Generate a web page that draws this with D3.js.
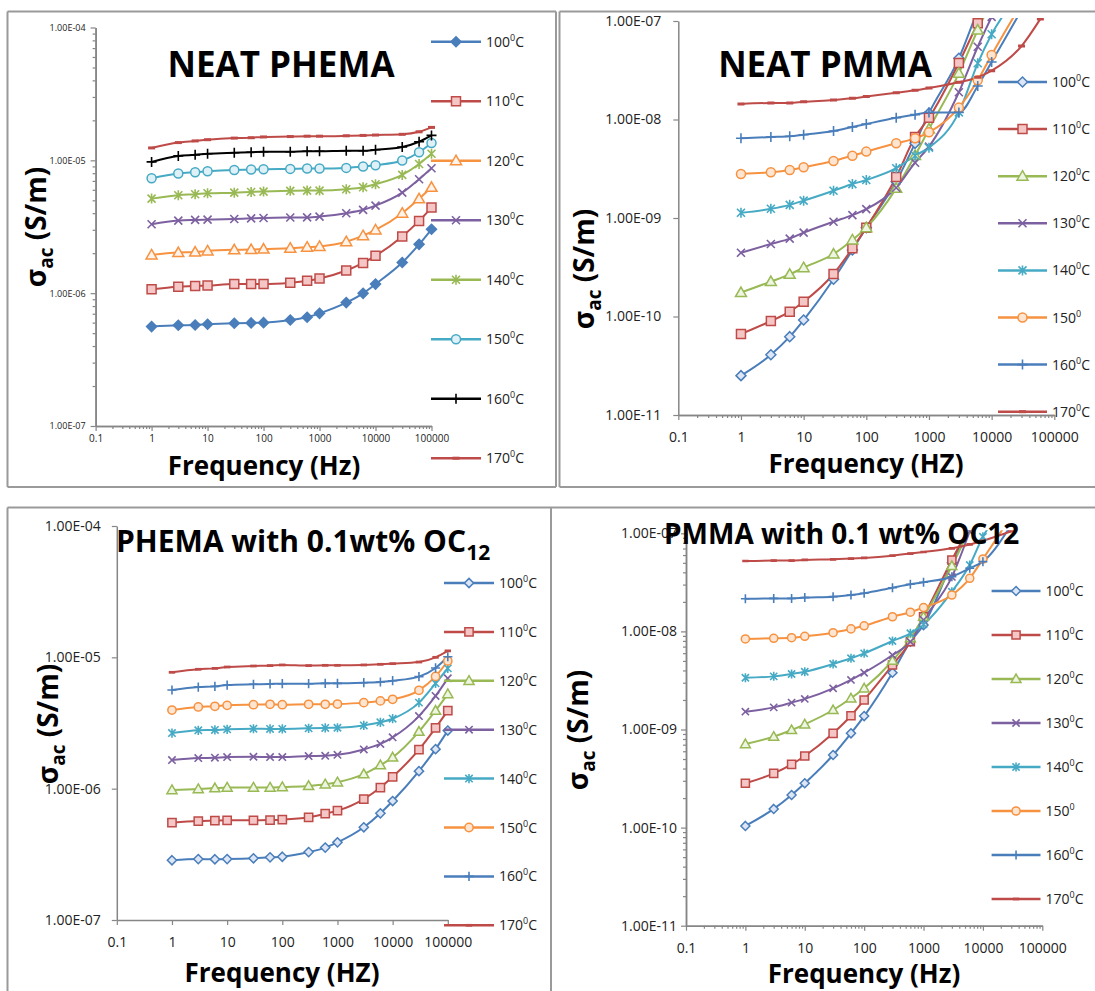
<!DOCTYPE html>
<html>
  <head>
    <meta charset="utf-8" />
    <title>AC conductivity of PHEMA and PMMA</title>
    <script src="https://d3js.org/d3.v7.min.js"></script>
    <style>
      body {
        margin: 0;
        background-color: white;
      }
      svg {
        display: block;
        font-family: "Open Sans", "Noto Sans", sans-serif;
      }
    </style>
  </head>

  <body>
    <svg width="1095" height="991" id="chart"></svg>

    <script>
      // frequencies (Hz) shared by every series
      const freqs = [1, 3, 6, 10, 30, 60, 100, 300, 600, 1000, 3000, 6000, 10000, 30000, 60000, 100000];

      // tick labels
      const xTickValues = [0.1, 1, 10, 100, 1000, 10000, 100000];
      const xTickLabels = ["0.1", "1", "10", "100", "1000", "10000", "100000"];
      const phemaYTickValues = [1e-7, 1e-6, 1e-5, 1e-4];
      const phemaYTickLabels = ["1.00E-07", "1.00E-06", "1.00E-05", "1.00E-04"];
      const pmmaYTickValues = [1e-11, 1e-10, 1e-9, 1e-8, 1e-7];
      const pmmaYTickLabels = ["1.00E-11", "1.00E-10", "1.00E-09", "1.00E-08", "1.00E-07"];

      // legend entries
      const legendPhema = ["100⁰C", "110⁰C", "120⁰C", "130⁰C", "140⁰C", "150⁰C", "160⁰C", "170⁰C"];
      const legendPmma = ["100⁰C", "110⁰C", "120⁰C", "130⁰C", "140⁰C", "150⁰", "160⁰C", "170⁰C"];

      // sigma_ac (S/m), one row per temperature 100..170 C
      const neatPhema = [
        [5.6e-7, 5.73e-7, 5.76e-7, 5.83e-7, 5.93e-7, 5.97e-7, 6.0e-7, 6.28e-7, 6.58e-7, 7.05e-7, 8.49e-7, 9.97e-7, 1.17e-6, 1.70e-6, 2.33e-6, 3.03e-6],
        [1.07e-6, 1.12e-6, 1.13e-6, 1.14e-6, 1.17e-6, 1.17e-6, 1.17e-6, 1.20e-6, 1.24e-6, 1.29e-6, 1.48e-6, 1.69e-6, 1.91e-6, 2.67e-6, 3.50e-6, 4.41e-6],
        [1.94e-6, 2.02e-6, 2.04e-6, 2.08e-6, 2.12e-6, 2.13e-6, 2.15e-6, 2.18e-6, 2.22e-6, 2.25e-6, 2.44e-6, 2.71e-6, 2.99e-6, 4.0e-6, 5.13e-6, 6.27e-6],
        [3.30e-6, 3.52e-6, 3.56e-6, 3.58e-6, 3.62e-6, 3.66e-6, 3.68e-6, 3.71e-6, 3.72e-6, 3.77e-6, 4.0e-6, 4.24e-6, 4.56e-6, 5.71e-6, 7.21e-6, 8.72e-6],
        [5.15e-6, 5.46e-6, 5.56e-6, 5.65e-6, 5.71e-6, 5.78e-6, 5.82e-6, 5.89e-6, 5.92e-6, 5.92e-6, 6.06e-6, 6.27e-6, 6.61e-6, 7.77e-6, 9.39e-6, 1.12e-5],
        [7.33e-6, 7.95e-6, 8.14e-6, 8.28e-6, 8.47e-6, 8.52e-6, 8.57e-6, 8.62e-6, 8.67e-6, 8.67e-6, 8.77e-6, 8.98e-6, 9.19e-6, 9.96e-6, 1.15e-5, 1.35e-5],
        [9.73e-6, 1.08e-5, 1.10e-5, 1.12e-5, 1.14e-5, 1.15e-5, 1.16e-5, 1.16e-5, 1.17e-5, 1.17e-5, 1.18e-5, 1.18e-5, 1.20e-5, 1.26e-5, 1.38e-5, 1.54e-5],
        [1.24e-5, 1.36e-5, 1.40e-5, 1.43e-5, 1.47e-5, 1.48e-5, 1.50e-5, 1.51e-5, 1.52e-5, 1.52e-5, 1.53e-5, 1.54e-5, 1.55e-5, 1.57e-5, 1.64e-5, 1.77e-5]
      ];

      const neatPmma = [
        [2.51e-11, 4.09e-11, 6.24e-11, 9.21e-11, 2.39e-10, 4.73e-10, 7.98e-10, 2.34e-9, 5.73e-9, 1.16e-8, 4.18e-8, 1.3e-7],
        [6.64e-11, 9.0e-11, 1.12e-10, 1.41e-10, 2.70e-10, 4.92e-10, 7.98e-10, 2.61e-9, 6.64e-9, 1.04e-8, 3.75e-8, 9.5e-8, 1.8e-7],
        [1.75e-10, 2.26e-10, 2.68e-10, 3.13e-10, 4.31e-10, 5.98e-10, 7.98e-10, 2.0e-9, 4.3e-9, 8.0e-9, 2.94e-8, 8.1e-8, 1.6e-7],
        [4.44e-10, 5.45e-10, 6.17e-10, 7.10e-10, 9.17e-10, 1.07e-9, 1.23e-9, 2.03e-9, 3.64e-9, 5.30e-9, 1.89e-8, 5.48e-8, 1.1e-7],
        [1.13e-9, 1.24e-9, 1.36e-9, 1.50e-9, 1.89e-9, 2.21e-9, 2.43e-9, 3.20e-9, 4.29e-9, 5.18e-9, 1.18e-8, 3.72e-8, 7.33e-8, 2.0e-7],
        [2.80e-9, 2.91e-9, 3.07e-9, 3.27e-9, 3.79e-9, 4.29e-9, 4.72e-9, 5.73e-9, 6.44e-9, 7.41e-9, 1.32e-8, 2.50e-8, 4.52e-8, 1.5e-7],
        [6.44e-9, 6.64e-9, 6.75e-9, 7.01e-9, 7.64e-9, 8.39e-9, 9.0e-9, 1.04e-8, 1.12e-8, 1.18e-8, 1.18e-8, 2.19e-8, 3.84e-8, 1.29e-7],
        [1.44e-8, 1.47e-8, 1.47e-8, 1.51e-8, 1.58e-8, 1.64e-8, 1.71e-8, 1.87e-8, 1.98e-8, 2.09e-8, 2.39e-8, 2.68e-8, 3.13e-8, 5.57e-8, 1.05e-7]
      ];

      const phemaOc12 = [
        [2.85e-7, 2.91e-7, 2.90e-7, 2.91e-7, 2.95e-7, 3.0e-7, 3.03e-7, 3.29e-7, 3.56e-7, 3.90e-7, 5.08e-7, 6.49e-7, 8.05e-7, 1.36e-6, 2.0e-6, 2.77e-6],
        [5.51e-7, 5.67e-7, 5.71e-7, 5.74e-7, 5.74e-7, 5.77e-7, 5.81e-7, 6.05e-7, 6.45e-7, 6.8e-7, 8.34e-7, 1.02e-6, 1.23e-6, 1.98e-6, 2.90e-6, 3.93e-6],
        [9.77e-7, 9.94e-7, 1.01e-6, 1.02e-6, 1.02e-6, 1.02e-6, 1.03e-6, 1.05e-6, 1.08e-6, 1.12e-6, 1.29e-6, 1.51e-6, 1.73e-6, 2.72e-6, 3.93e-6, 5.26e-6],
        [1.65e-6, 1.71e-6, 1.72e-6, 1.74e-6, 1.75e-6, 1.74e-6, 1.74e-6, 1.77e-6, 1.78e-6, 1.81e-6, 1.99e-6, 2.19e-6, 2.46e-6, 3.57e-6, 5.08e-6, 6.92e-6],
        [2.65e-6, 2.78e-6, 2.80e-6, 2.83e-6, 2.86e-6, 2.85e-6, 2.85e-6, 2.88e-6, 2.90e-6, 2.91e-6, 3.03e-6, 3.2e-6, 3.41e-6, 4.52e-6, 6.34e-6, 8.24e-6],
        [3.97e-6, 4.19e-6, 4.24e-6, 4.31e-6, 4.36e-6, 4.39e-6, 4.36e-6, 4.39e-6, 4.39e-6, 4.41e-6, 4.52e-6, 4.66e-6, 4.79e-6, 5.61e-6, 7.16e-6, 9.38e-6],
        [5.64e-6, 5.94e-6, 6.01e-6, 6.15e-6, 6.23e-6, 6.27e-6, 6.30e-6, 6.30e-6, 6.34e-6, 6.34e-6, 6.41e-6, 6.49e-6, 6.64e-6, 7.13e-6, 8.30e-6, 1.01e-5],
        [7.69e-6, 8.11e-6, 8.24e-6, 8.44e-6, 8.59e-6, 8.65e-6, 8.75e-6, 8.65e-6, 8.69e-6, 8.69e-6, 8.75e-6, 8.85e-6, 8.95e-6, 9.21e-6, 1.0e-5, 1.12e-5]
      ];

      const pmmaOc12 = [
        [1.04e-10, 1.55e-10, 2.15e-10, 2.83e-10, 5.5e-10, 9.14e-10, 1.37e-9, 3.79e-9, 7.85e-9, 1.16e-8, 5.0e-8, 1.2e-7],
        [2.83e-10, 3.57e-10, 4.41e-10, 5.37e-10, 9.14e-10, 1.38e-9, 2.0e-9, 4.54e-9, 7.85e-9, 1.41e-8, 5.35e-8, 1.2e-7],
        [7.11e-10, 8.45e-10, 9.89e-10, 1.13e-9, 1.58e-9, 2.08e-9, 2.63e-9, 5.02e-9, 8.51e-9, 1.41e-8, 4.65e-8, 1.1e-7],
        [1.52e-9, 1.68e-9, 1.88e-9, 2.05e-9, 2.63e-9, 3.2e-9, 3.79e-9, 5.74e-9, 7.85e-9, 1.31e-8, 3.59e-8, 1.05e-7],
        [3.37e-9, 3.48e-9, 3.68e-9, 3.88e-9, 4.65e-9, 5.32e-9, 5.98e-9, 7.98e-9, 9.57e-9, 1.18e-8, 2.54e-8, 4.75e-8, 9.23e-8, 2.0e-7],
        [8.37e-9, 8.51e-9, 8.63e-9, 8.91e-9, 9.70e-9, 1.06e-8, 1.14e-8, 1.41e-8, 1.57e-8, 1.75e-8, 2.35e-8, 3.48e-8, 5.47e-8, 1.5e-7],
        [2.15e-8, 2.17e-8, 2.17e-8, 2.21e-8, 2.26e-8, 2.35e-8, 2.45e-8, 2.79e-8, 3.02e-8, 3.17e-8, 3.61e-8, 4.40e-8, 5.14e-8, 1.22e-7],
        [5.22e-8, 5.27e-8, 5.27e-8, 5.35e-8, 5.43e-8, 5.52e-8, 5.61e-8, 5.92e-8, 6.21e-8, 6.45e-8, 7.03e-8, 7.7e-8, 8.4e-8, 1.05e-7]
      ];

      // series looks (Excel 2007 palette)
      const BLUE = "#4A7EBB", RED = "#BE4B48", GREEN = "#98B954", PURPLE = "#7D60A0",
            CYAN = "#46AAC5", ORANGE = "#F69240";

      const stylesNeatPhema = [
        { color: BLUE, marker: "diamond", fill: BLUE },
        { color: RED, marker: "square", fill: "#F4C6C5" },
        { color: ORANGE, marker: "triangle", fill: "#fff3ea" },
        { color: PURPLE, marker: "x" },
        { color: GREEN, marker: "star" },
        { color: CYAN, marker: "circle", fill: "#dff1f7" },
        { color: "#000", marker: "plus" },
        { color: RED, marker: "dash" }
      ];
      const stylesOther = [
        { color: BLUE, marker: "diamond", fill: "#dce6f4" },
        { color: RED, marker: "square", fill: "#F4C6C5" },
        { color: GREEN, marker: "triangle", fill: "#eef5e2" },
        { color: PURPLE, marker: "x" },
        { color: CYAN, marker: "star" },
        { color: ORANGE, marker: "circle", fill: "#fde5d2" },
        { color: BLUE, marker: "plus" },
        { color: RED, marker: "dash" }
      ];

      const markerPaths = {
        diamond: "M0,-5L5,0L0,5L-5,0Z",
        square: "M-4.5,-4.5h9v9h-9Z",
        triangle: "M0,-5.5L5.5,4L-5.5,4Z",
        circle: "M-4.5,0a4.5,4.5 0 1,0 9,0a4.5,4.5 0 1,0 -9,0",
        x: "M-4,-4L4,4M-4,4L4,-4",
        star: "M-4,-4L4,4M-4,4L4,-4M0,-5V5",
        plus: "M-5,0H5M0,-5V5",
        dash: "M-3.5,-1.5h7v3h-7Z"
      };

      function drawMarker(g, st, x, y, k) {
        const p = g.append("path")
          .attr("d", markerPaths[st.marker])
          .attr("transform", `translate(${x},${y}) scale(${k})`);
        if (st.marker === "x" || st.marker === "star" || st.marker === "plus") {
          p.attr("fill", "none").attr("stroke", st.color).attr("stroke-width", 1.6 / k);
        } else if (st.marker === "dash") {
          p.attr("fill", st.color);
        } else {
          p.attr("fill", st.fill).attr("stroke", st.color).attr("stroke-width", 1.5 / k);
        }
      }

      const panels = [
        {
          series: neatPhema, styles: stylesNeatPhema, legend: legendPhema,
          xr: [95.6, 431.5], yr: [426, 27.5], yDom: [1e-7, 1e-4],
          yTicks: phemaYTickValues, yLabels: phemaYTickLabels,
          yMinor: true, xMinor: true, yFont: 9, xFont: 10, yPad: 5, xPad: 4,
          clip: false, mk: 1,
          legendX: [431, 481], legendY: 41.7, legendStep: 59.5,
          title: ["NEAT PHEMA", ""], titlePos: [281, 77], titleSize: 35, titleAnchor: "middle",
          yLabelPos: [46, 227], xLabel: "Frequency (Hz)", xLabelPos: [264, 475]
        },
        {
          series: neatPmma, styles: stylesOther, legend: legendPmma,
          xr: [678.3, 1054.3], yr: [415, 21], yDom: [1e-11, 1e-7],
          yTicks: pmmaYTickValues, yLabels: pmmaYTickLabels,
          yMinor: false, xMinor: true, yFont: 14, xFont: 14, yPad: 12, xPad: 12,
          clip: true, mk: 1,
          legendX: [998, 1047], legendY: 82, legendStep: 47.1,
          title: ["NEAT PMMA", ""], titlePos: [825, 77], titleSize: 35, titleAnchor: "middle",
          yLabelPos: [594, 269], xLabel: "Frequency (HZ)", xLabelPos: [866, 473]
        },
        {
          series: phemaOc12, styles: stylesOther, legend: legendPhema,
          xr: [116.8, 447.8], yr: [920, 526], yDom: [1e-7, 1e-4],
          yTicks: phemaYTickValues, yLabels: phemaYTickLabels,
          yMinor: false, xMinor: false, yFont: 14, xFont: 14, yPad: 11, xPad: 12,
          clip: false, mk: 0.92,
          legendX: [444, 494], legendY: 583, legendStep: 48.9,
          title: ["PHEMA with 0.1wt% OC", "12"], titlePos: [116, 552], titleSize: 30, titleAnchor: "start",
          yLabelPos: [58, 724], xLabel: "Frequency (HZ)", xLabelPos: [282, 982]
        },
        {
          series: pmmaOc12, styles: stylesOther, legend: legendPmma,
          xr: [686, 1042.3], yr: [925.7, 533.3], yDom: [1e-11, 1e-7],
          yTicks: pmmaYTickValues, yLabels: pmmaYTickLabels,
          yMinor: true, xMinor: true, yFont: 14, xFont: 14, yPad: 4, xPad: 12,
          clip: true, mk: 0.9,
          legendX: [991.6, 1040.5], legendY: 591, legendStep: 44,
          title: ["PMMA with 0.1 wt% OC12", ""], titlePos: [664, 544], titleSize: 28, titleAnchor: "start",
          yLabelPos: [588, 730], xLabel: "Frequency (Hz)", xLabelPos: [864, 983]
        }
      ];

      const svg = d3.select("#chart");

      // chart frames
      const frameLines = [
        [7.5, 11.5, 556, 11.5], [7.5, 11.5, 7.5, 487], [7.5, 487, 556, 487], [556, 11.5, 556, 487],
        [559.5, 11.5, 1095, 11.5], [559.5, 11.5, 559.5, 487], [559.5, 487, 1095, 487],
        [7.5, 507.5, 1095, 507.5], [7.5, 507.5, 7.5, 991], [551, 507.5, 551, 991]
      ];
      svg.selectAll("line.frame")
        .data(frameLines)
        .enter()
        .append("line")
        .attr("class", "frame")
        .attr("x1", d => d[0]).attr("y1", d => d[1])
        .attr("x2", d => d[2]).attr("y2", d => d[3])
        .attr("stroke", "#9a9a9a")
        .attr("stroke-width", 2);

      function minorTicks(lo, hi) {
        const out = [];
        for (let e = Math.round(Math.log10(lo)); e < Math.round(Math.log10(hi)); e++) {
          for (let m = 2; m <= 9; m++) out.push(m * Math.pow(10, e));
        }
        return out;
      }

      function styleAxis(g, size) {
        g.select(".domain").attr("stroke", "#868686").attr("stroke-width", 1.5);
        g.selectAll(".tick line").attr("stroke", "#868686").attr("stroke-width", 1.2);
        g.selectAll(".tick text")
          .attr("fill", "#222")
          .style("font-size", size + "px")
          .style("font-family", "'Open Sans', sans-serif");
      }

      panels.forEach((p, pi) => {
        const g = svg.append("g");
        const x = d3.scaleLog().domain([0.1, 100000]).range(p.xr);
        const y = d3.scaleLog().domain(p.yDom).range(p.yr);

        // minor ticks first, under the main axes (no labels)
        if (p.yMinor) {
          g.append("g")
            .attr("transform", `translate(${p.xr[0]},0)`)
            .call(d3.axisLeft(y).tickValues(minorTicks(p.yDom[0], p.yDom[1])).tickSize(3).tickSizeOuter(0))
            .call(a => styleAxis(a, p.yFont))
            .call(a => a.selectAll("text").remove());
        }
        if (p.xMinor) {
          g.append("g")
            .attr("transform", `translate(0,${p.yr[0]})`)
            .call(d3.axisBottom(x).tickValues(minorTicks(0.1, 100000)).tickSize(3).tickSizeOuter(0))
            .call(a => styleAxis(a, p.xFont))
            .call(a => a.selectAll("text").remove());
        }

        g.append("g")
          .attr("transform", `translate(${p.xr[0]},0)`)
          .call(d3.axisLeft(y).tickValues(p.yTicks).tickFormat((d, i) => p.yLabels[i]).tickSize(5).tickSizeOuter(0).tickPadding(p.yPad))
          .call(a => styleAxis(a, p.yFont));

        g.append("g")
          .attr("transform", `translate(0,${p.yr[0]})`)
          .call(d3.axisBottom(x).tickValues(xTickValues).tickFormat((d, i) => xTickLabels[i]).tickSize(5).tickSizeOuter(0).tickPadding(p.xPad))
          .call(a => styleAxis(a, p.xFont));

        // plot area clip (lines run off the top in the PMMA charts)
        const clipId = "clip" + pi;
        g.append("clipPath").attr("id", clipId)
          .append("rect")
          .attr("x", p.xr[0]).attr("y", p.yr[1] - 3)
          .attr("width", p.xr[1] - p.xr[0] + 20)
          .attr("height", p.yr[0] - p.yr[1] + 3);

        const plot = g.append("g");
        if (p.clip) plot.attr("clip-path", `url(#${clipId})`);

        const line = d3.line()
          .x((d, i) => x(freqs[i]))
          .y(d => y(d))
          .curve(d3.curveMonotoneX);

        p.series.forEach((vals, si) => {
          const st = p.styles[si];
          plot.append("path")
            .attr("d", line(vals))
            .attr("fill", "none")
            .attr("stroke", st.color)
            .attr("stroke-width", 2);
        });
        p.series.forEach((vals, si) => {
          const st = p.styles[si];
          vals.forEach((v, i) => drawMarker(plot, st, x(freqs[i]), y(v), p.mk));
        });

        // legend
        p.legend.forEach((lab, si) => {
          const st = p.styles[si];
          const ly = p.legendY + si * p.legendStep;
          g.append("line")
            .attr("x1", p.legendX[0]).attr("x2", p.legendX[1])
            .attr("y1", ly).attr("y2", ly)
            .attr("stroke", st.color).attr("stroke-width", 2.5);
          drawMarker(g, st, (p.legendX[0] + p.legendX[1]) / 2, ly, p.mk);
          const parts = lab.split("⁰");
          const t = g.append("text")
            .attr("x", p.legendX[1] + 5)
            .attr("y", ly + 5)
            .attr("fill", "#222")
            .style("font-size", "14px");
          t.append("tspan").text(parts[0]);
          t.append("tspan").attr("dy", -6).style("font-size", "9px").text("0");
          if (parts[1]) t.append("tspan").attr("dy", 6).text(parts[1]);
        });

        // title
        const tt = g.append("text")
          .attr("x", p.titlePos[0]).attr("y", p.titlePos[1])
          .attr("text-anchor", p.titleAnchor)
          .attr("fill", "#000")
          .style("font-weight", "700")
          .style("font-size", p.titleSize + "px")
          .text(p.title[0]);
        if (p.title[1]) {
          tt.append("tspan").attr("dy", 8).style("font-size", "21px").text(p.title[1]);
        }

        // y axis title
        const yl = g.append("text")
          .attr("transform", `translate(${p.yLabelPos[0]},${p.yLabelPos[1]}) rotate(-90)`)
          .attr("text-anchor", "middle")
          .attr("fill", "#000")
          .style("font-weight", "700")
          .style("font-size", "28px");
        yl.append("tspan").text("σ");
        yl.append("tspan").attr("dy", 7).style("font-size", "19px").text("ac");
        yl.append("tspan").attr("dy", -7).text(" (S/m)");

        // x axis title
        g.append("text")
          .attr("x", p.xLabelPos[0]).attr("y", p.xLabelPos[1])
          .attr("text-anchor", "middle")
          .attr("fill", "#000")
          .style("font-weight", "700")
          .style("font-size", "26px")
          .text(p.xLabel);
      });
    </script>
  </body>
</html>
